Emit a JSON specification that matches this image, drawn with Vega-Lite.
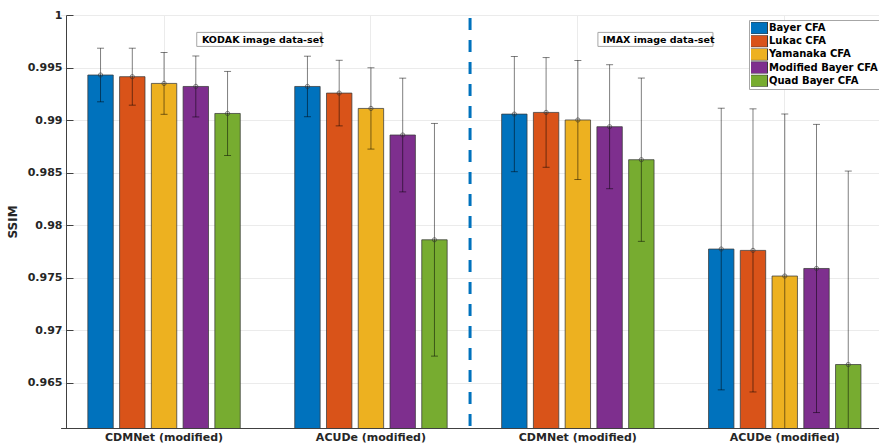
{
  "$schema": "https://vega.github.io/schema/vega-lite/v6.json",
  "width": 830,
  "height": 413,
  "autosize": "none",
  "padding": {"left": 66, "top": 15, "right": 0, "bottom": 18},
  "background": "white",
  "config": {
    "font": "DejaVu Sans",
    "view": {"stroke": "#4d4d4d", "strokeWidth": 1}
  },
  "datasets": {
    "ssim": [
      {"group": "KODAK|CDMNet (modified)", "cfa": "Bayer CFA", "mean": 0.99429, "lo": 0.99174, "hi": 0.99684},
      {"group": "KODAK|CDMNet (modified)", "cfa": "Lukac CFA", "mean": 0.99413, "lo": 0.99142, "hi": 0.99684},
      {"group": "KODAK|CDMNet (modified)", "cfa": "Yamanaka CFA", "mean": 0.99349, "lo": 0.99055, "hi": 0.99643},
      {"group": "KODAK|CDMNet (modified)", "cfa": "Modified Bayer CFA", "mean": 0.9932, "lo": 0.9903, "hi": 0.9961},
      {"group": "KODAK|CDMNet (modified)", "cfa": "Quad Bayer CFA", "mean": 0.99063, "lo": 0.98663, "hi": 0.99463},
      {"group": "KODAK|ACUDe (modified)", "cfa": "Bayer CFA", "mean": 0.9932, "lo": 0.99032, "hi": 0.99608},
      {"group": "KODAK|ACUDe (modified)", "cfa": "Lukac CFA", "mean": 0.99257, "lo": 0.98945, "hi": 0.99569},
      {"group": "KODAK|ACUDe (modified)", "cfa": "Yamanaka CFA", "mean": 0.99111, "lo": 0.98724, "hi": 0.99498},
      {"group": "KODAK|ACUDe (modified)", "cfa": "Modified Bayer CFA", "mean": 0.98858, "lo": 0.98317, "hi": 0.99399},
      {"group": "KODAK|ACUDe (modified)", "cfa": "Quad Bayer CFA", "mean": 0.97861, "lo": 0.96754, "hi": 0.98968},
      {"group": "IMAX|CDMNet (modified)", "cfa": "Bayer CFA", "mean": 0.99057, "lo": 0.98509, "hi": 0.99605},
      {"group": "IMAX|CDMNet (modified)", "cfa": "Lukac CFA", "mean": 0.99073, "lo": 0.98551, "hi": 0.99595},
      {"group": "IMAX|CDMNet (modified)", "cfa": "Yamanaka CFA", "mean": 0.99001, "lo": 0.98434, "hi": 0.99568},
      {"group": "IMAX|CDMNet (modified)", "cfa": "Modified Bayer CFA", "mean": 0.98937, "lo": 0.98347, "hi": 0.99527},
      {"group": "IMAX|CDMNet (modified)", "cfa": "Quad Bayer CFA", "mean": 0.98623, "lo": 0.97846, "hi": 0.994},
      {"group": "IMAX|ACUDe (modified)", "cfa": "Bayer CFA", "mean": 0.97773, "lo": 0.96433, "hi": 0.99113},
      {"group": "IMAX|ACUDe (modified)", "cfa": "Lukac CFA", "mean": 0.9776, "lo": 0.96413, "hi": 0.99107},
      {"group": "IMAX|ACUDe (modified)", "cfa": "Yamanaka CFA", "mean": 0.97516, "lo": 0.95974, "hi": 0.99058},
      {"group": "IMAX|ACUDe (modified)", "cfa": "Modified Bayer CFA", "mean": 0.97588, "lo": 0.96217, "hi": 0.98959},
      {"group": "IMAX|ACUDe (modified)", "cfa": "Quad Bayer CFA", "mean": 0.96674, "lo": 0.94833, "hi": 0.98515}
    ],
    "notes": [
      {"label": "KODAK image data-set", "bx1": 1.158, "bx2": 1.763, "by1": 0.997011, "by2": 0.998344, "tx": 1.183, "ty": 0.9976},
      {"label": "IMAX image data-set", "bx1": 3.097, "bx2": 3.653, "by1": 0.997011, "by2": 0.998344, "tx": 3.12, "ty": 0.9976}
    ],
    "sep": [{"x": 2.479}]
  },
  "layer": [
    {
      "data": {"name": "ssim"},
      "encoding": {
        "x": {
          "field": "group",
          "type": "nominal",
          "sort": null,
          "scale": {"range": [-5.4, 822.2], "paddingInner": 0, "paddingOuter": 0},
          "axis": {
            "title": null,
            "labelExpr": "split(datum.label, '|')[1]",
            "labelAngle": 0,
            "labelFont": "DejaVu Sans",
            "labelFontWeight": "bold",
            "labelFontSize": 11,
            "labelColor": "#262626",
            "labelPadding": 10,
            "tickSize": -7,
            "tickColor": "#404040",
            "domainColor": "#404040",
            "grid": true,
            "gridColor": "#ebebeb",
            "gridWidth": 1
          }
        },
        "xOffset": {
          "field": "cfa",
          "type": "nominal",
          "sort": ["Bayer CFA", "Lukac CFA", "Yamanaka CFA", "Modified Bayer CFA", "Quad Bayer CFA"],
          "scale": {"paddingInner": 0.2, "paddingOuter": 0.858}
        }
      },
      "layer": [
        {
          "mark": {"type": "bar", "clip": true, "stroke": "#3a3a3a", "strokeWidth": 1, "strokeOpacity": 0.75},
          "encoding": {
            "y": {
              "field": "mean",
              "type": "quantitative",
              "scale": {"domain": [0.9607, 1], "zero": false, "nice": false},
              "axis": {
                "title": "SSIM",
                "titleFont": "DejaVu Sans",
                "titleFontWeight": "bold",
                "titleFontSize": 12,
                "titleColor": "#262626",
                "titlePadding": 8,
                "values": [0.965, 0.97, 0.975, 0.98, 0.985, 0.99, 0.995, 1],
                "format": "~g",
                "labelFont": "DejaVu Sans",
                "labelFontWeight": "bold",
                "labelFontSize": 11,
                "labelColor": "#262626",
                "labelPadding": 11,
                "tickSize": -7,
                "tickColor": "#404040",
                "domainColor": "#404040",
                "grid": true,
                "gridColor": "#ebebeb",
                "gridWidth": 1
              }
            },
            "color": {
              "field": "cfa",
              "type": "nominal",
              "sort": ["Bayer CFA", "Lukac CFA", "Yamanaka CFA", "Modified Bayer CFA", "Quad Bayer CFA"],
              "scale": {
                "domain": ["Bayer CFA", "Lukac CFA", "Yamanaka CFA", "Modified Bayer CFA", "Quad Bayer CFA"],
                "range": ["#0072BD", "#D95319", "#EDB120", "#7E2F8E", "#77AC30"]
              },
              "legend": {
                "title": null,
                "orient": "none",
                "legendX": 683,
                "legendY": 5,
                "padding": 2,
                "fillColor": "white",
                "strokeColor": "#a6a6a6",
                "symbolType": "M-1.667,-1H1.667V1H-1.667Z",
                "symbolSize": 144,
                "symbolStrokeWidth": 1,
                "symbolOpacity": 1,
                "labelFont": "DejaVu Sans",
                "labelFontWeight": "bold",
                "labelFontSize": 10,
                "labelColor": "#000000",
                "labelOffset": 5,
                "clipHeight": 12,
                "rowPadding": 1.2
              }
            }
          }
        },
        {
          "mark": {"type": "rule", "clip": true, "color": "#000000", "opacity": 0.5, "strokeWidth": 1},
          "encoding": {
            "y": {"field": "lo", "type": "quantitative"},
            "y2": {"field": "hi"}
          }
        },
        {
          "mark": {"type": "tick", "clip": true, "color": "#000000", "opacity": 0.5, "size": 7, "thickness": 1},
          "encoding": {"y": {"field": "hi", "type": "quantitative"}}
        },
        {
          "mark": {"type": "tick", "clip": true, "color": "#000000", "opacity": 0.5, "size": 7, "thickness": 1},
          "encoding": {"y": {"field": "lo", "type": "quantitative"}}
        },
        {
          "mark": {"type": "point", "clip": true, "filled": false, "color": "#333333", "opacity": 0.6, "size": 18, "strokeWidth": 1},
          "encoding": {"y": {"field": "mean", "type": "quantitative"}}
        }
      ]
    },
    {
      "layer": [
        {
          "data": {"name": "sep"},
          "mark": {"type": "rule", "color": "#0072BD", "strokeWidth": 3, "strokeDash": [12, 10], "strokeDashOffset": -3},
          "encoding": {
            "x": {"field": "x", "type": "quantitative", "scale": {"domain": [0.5, 4.5], "range": [-5.4, 822.2]}, "axis": null}
          }
        },
        {
          "data": {"name": "notes"},
          "mark": {"type": "rect", "fill": "white", "stroke": "#a6a6a6", "strokeWidth": 1},
          "encoding": {
            "x": {"field": "bx1", "type": "quantitative", "scale": {"domain": [0.5, 4.5], "range": [-5.4, 822.2]}, "axis": null},
            "x2": {"field": "bx2"},
            "y": {"field": "by1", "type": "quantitative"},
            "y2": {"field": "by2"}
          }
        },
        {
          "data": {"name": "notes"},
          "mark": {"type": "text", "align": "left", "baseline": "middle", "font": "DejaVu Sans", "fontWeight": "bold", "fontSize": 9.5, "color": "#000000"},
          "encoding": {
            "x": {"field": "tx", "type": "quantitative", "scale": {"domain": [0.5, 4.5], "range": [-5.4, 822.2]}, "axis": null},
            "y": {"field": "ty", "type": "quantitative"},
            "text": {"field": "label"}
          }
        }
      ]
    }
  ],
  "resolve": {"scale": {"x": "independent", "y": "shared"}}
}
